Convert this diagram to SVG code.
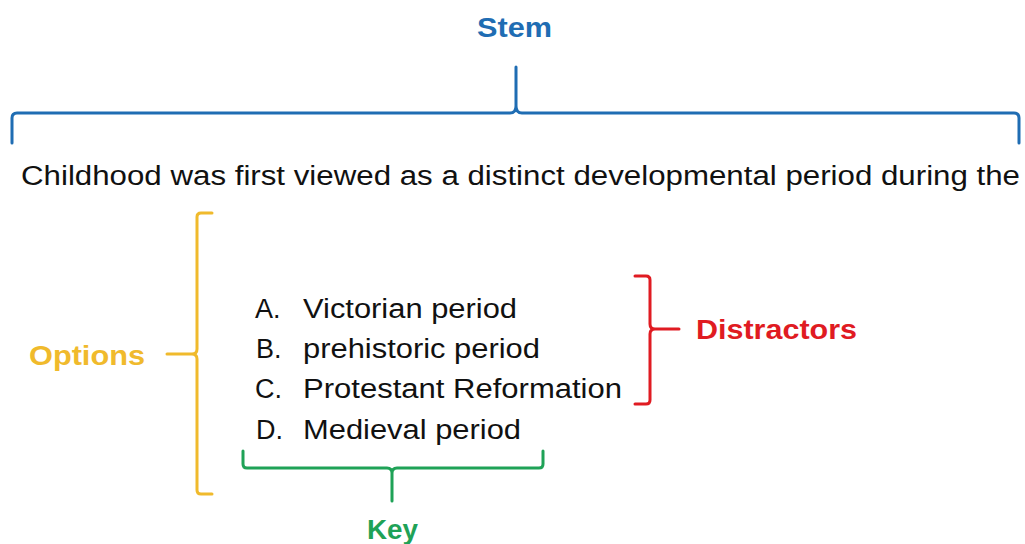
<svg xmlns="http://www.w3.org/2000/svg" width="1025" height="544" viewBox="0 0 1025 544">
<style>
.t{font-family:"Liberation Sans",Arial,sans-serif;fill:#111;font-size:27px}
.lab{font-family:"Liberation Sans",Arial,sans-serif;font-weight:bold;font-size:28px}
.br{fill:none;stroke-width:3;stroke-linecap:round;stroke-linejoin:round}
</style>
<rect width="1025" height="544" fill="#fff"/>
<g id="connectors">
<path class="br" stroke="#1F6DB3" d="M12,143 V118 Q12,113 17,113 H510 Q516,113 516,106 V67 V106 Q516,113 522,113 H1014 Q1019,113 1019,118 V143"/>
<path class="br" stroke="#F0BA2C" d="M212,213 H201 Q197,213 197,217 V349 Q197,354 192,354 H167 H192 Q197,354 197,359 V490 Q197,494 201,494 H212"/>
<path class="br" stroke="#E01B22" d="M635,276 H646 Q650,276 650,280 V324 Q650,329 655,329 H679 H655 Q650,329 650,334 V400 Q650,404 646,404 H635"/>
<path class="br" stroke="#1FA257" d="M243,451 V464 Q243,468 247,468 H387 Q392,468 392,473 V501 V473 Q392,468 397,468 H539 Q543,468 543,464 V451"/>
</g>
<g id="stem"><text class="lab" x="477" y="37" fill="#1F6DB3" textLength="75" lengthAdjust="spacingAndGlyphs">Stem</text></g>
<g id="question"><text class="t" x="21" y="185" font-size="29" textLength="999" lengthAdjust="spacingAndGlyphs">Childhood was first viewed as a distinct developmental period during the</text></g>
<g id="options-list">
<text class="t" x="255" y="318">A.</text><text class="t" x="303" y="318" textLength="214" lengthAdjust="spacingAndGlyphs">Victorian period</text>
<text class="t" x="256" y="358">B.</text><text class="t" x="303" y="358" textLength="237" lengthAdjust="spacingAndGlyphs">prehistoric period</text>
<text class="t" x="255" y="398">C.</text><text class="t" x="303" y="398" textLength="319" lengthAdjust="spacingAndGlyphs">Protestant Reformation</text>
<text class="t" x="256" y="439">D.</text><text class="t" x="303" y="439" textLength="218" lengthAdjust="spacingAndGlyphs">Medieval period</text>
</g>
<g id="options"><text class="lab" x="29" y="365" fill="#F0BA2C" textLength="116" lengthAdjust="spacingAndGlyphs">Options</text></g>
<g id="distractors"><text class="lab" x="696" y="339" fill="#E01B22" font-size="27" textLength="161" lengthAdjust="spacingAndGlyphs">Distractors</text></g>
<g id="key"><text class="lab" x="367" y="539" fill="#1FA257" textLength="51" lengthAdjust="spacingAndGlyphs">Key</text></g>
</svg>
